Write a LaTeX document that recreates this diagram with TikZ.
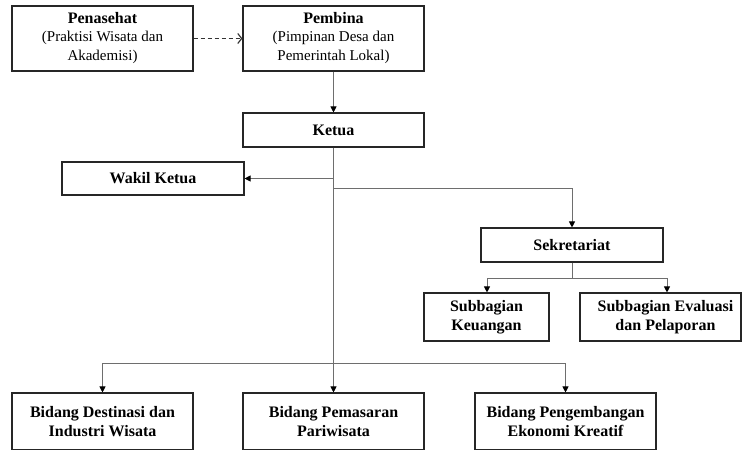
\documentclass[tikz,border=0pt]{standalone}
\usepackage{fontspec}
\setmainfont{Liberation Serif}
\usetikzlibrary{arrows.meta}
\definecolor{linegray}{HTML}{6E6E6E}
\newcommand{\subtxt}[1]{{\fontsize{15}{18}\selectfont\mdseries #1}}
\tikzset{
  box/.style={draw=black!85, line width=1.1pt, align=center, inner sep=0pt,
    font=\fontsize{16}{19.5}\selectfont\bfseries},
  conn/.style={draw=linegray, line width=0.9pt, -{Triangle[width=6pt,length=6pt,color=black]}},
  plain/.style={draw=linegray, line width=0.9pt},
}
\begin{document}
\begin{tikzpicture}[x=1pt,y=-1pt]
\useasboundingbox (0,0) rectangle (742,450);
\begin{scope}
\clip (0,0) rectangle (742,450);
% top row
\node[box, minimum width=181pt, minimum height=65pt] (pen) at (102.5,38.5)
  {Penasehat\\[-2pt]\subtxt{(Praktisi Wisata dan}\\\subtxt{Akademisi)}};
\node[box, minimum width=181pt, minimum height=65pt] (pem) at (333.5,38.5)
  {Pembina\\[-2pt]\subtxt{(Pimpinan Desa dan}\\\subtxt{Pemerintah Lokal)}};
\node[box, minimum width=181pt, minimum height=34pt] (ket) at (333.5,130) {Ketua};
\node[box, minimum width=182pt, minimum height=33pt] (wak) at (153,178.5) {Wakil Ketua};
\node[box, minimum width=182pt, minimum height=34pt] (sek) at (572,245) {Sekretariat};
\node[box, minimum width=125pt, minimum height=48pt] (subk) at (486.5,317) {Subbagian\\Keuangan};
\node[box, minimum width=161pt, minimum height=48pt] (sube) at (660.5,317) {\hspace*{10pt}Subbagian Evaluasi\\\hspace*{10pt}dan Pelaporan};
\node[box, minimum width=181pt, minimum height=57pt] (bd1) at (102.5,421.5) {Bidang Destinasi dan\\Industri Wisata};
\node[box, minimum width=181pt, minimum height=57pt] (bd2) at (333.5,421.5) {Bidang Pemasaran\\Pariwisata};
\node[box, minimum width=181pt, minimum height=57pt] (bd3) at (565.5,421.5) {Bidang Pengembangan\\Ekonomi Kreatif};
% coordinates
\coordinate (jw) at (333.5,178.5);
\coordinate (js) at (333.5,188);
\coordinate (jsr) at (572,188);
\coordinate (jb) at (333.5,363);
\coordinate (jbl) at (102.5,363);
\coordinate (jbr) at (565.5,363);
\coordinate (jk) at (572,278);
\coordinate (jkl) at (487,278);
\coordinate (jkr) at (667,278);
% connectors
\draw[draw=black!80, line width=1.1pt, dash pattern=on 4pt off 3pt, -{Straight Barb[length=4pt,width=10pt,line width=1.1pt]}] (pen.east) -- (pem.west);
\draw[conn] (pem.south) -- (ket.north);
\draw[conn] (ket.south) -- (bd2.north);
\draw[conn] (jw) -- (wak.east);
\draw[conn] (js) -- (jsr) -- (sek.north);
\draw[plain] (sek.south) -- (jk);
\draw[conn] (jk) -- (jkl) -- (subk.north -| jkl);
\draw[conn] (jk) -- (jkr) -- (sube.north -| jkr);
\draw[conn] (jb) -- (jbl) -- (bd1.north);
\draw[conn] (jb) -- (jbr) -- (bd3.north);
\end{scope}
\end{tikzpicture}
\end{document}
